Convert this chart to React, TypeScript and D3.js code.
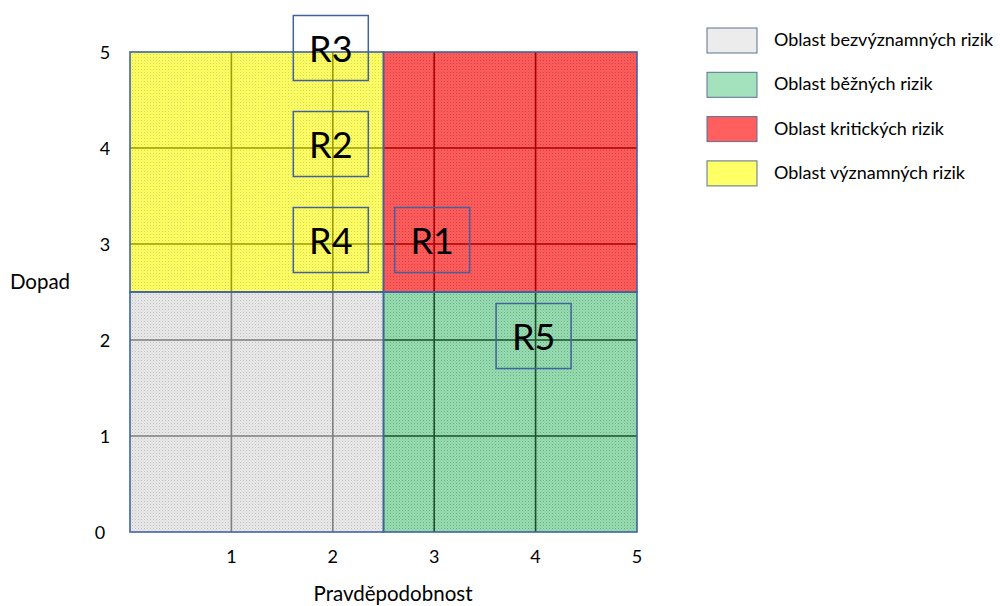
import * as d3 from 'd3';

const zones = [
  { key: 'grey', x0: 0, x1: 2.5, y0: 0, y1: 2.5, fill: '#e9e9e9', dot: '#b0b0b0', grid: '#7f7f7f' },
  { key: 'green', x0: 2.5, x1: 5, y0: 0, y1: 2.5, fill: '#96dcb0', dot: '#5c9c72', grid: '#1d4f2c' },
  { key: 'red', x0: 2.5, x1: 5, y0: 2.5, y1: 5, fill: '#ff5c5c', dot: '#c03838', grid: '#a80000' },
  { key: 'yellow', x0: 0, x1: 2.5, y0: 2.5, y1: 5, fill: '#ffff66', dot: '#c8c840', grid: '#9c9c00' },
];

const legendLabels = [
  'Oblast bezvýznamných rizik',
  'Oblast běžných rizik',
  'Oblast kritických rizik',
  'Oblast významných rizik',
];
const legendFills = ['#ececec', '#a3e2bc', '#ff5f5f', '#ffff66'];

const risks = ['R1', 'R2', 'R3', 'R4', 'R5'];
const riskX = [3, 2, 2, 2, 4];
const riskY = [3, 4, 5, 3, 2];

const ticks = [0, 1, 2, 3, 4, 5];

const font = 'Lato, "Open Sans", sans-serif';
const blue = '#41629f';

export default function App() {
  const x = d3.scaleLinear().domain([0, 5]).range([130, 637]);
  const y = d3.scaleLinear().domain([0, 5]).range([532, 52]);

  const boxW = 75;
  const boxH = 65;

  return (
    <svg
      width={1000}
      height={606}
      style={{ position: 'absolute', left: 0, top: 0, background: '#fff' }}
    >
      <defs>
        {zones.map((z) => (
          <pattern key={z.key} id={'pat-' + z.key} width={3} height={3} patternUnits="userSpaceOnUse">
            <rect width={3} height={3} fill={z.fill} />
            <rect x={0} y={0} width={1} height={1} fill={z.dot} opacity={0.7} />
            <rect x={1.5} y={1.5} width={1} height={1} fill={z.dot} opacity={0.4} />
          </pattern>
        ))}
      </defs>

      {zones.map((z) => {
        const gx = d3.range(Math.floor(z.x0) + 1, Math.ceil(z.x1)).filter((v) => v > z.x0 && v < z.x1);
        const gy = d3.range(Math.floor(z.y0) + 1, Math.ceil(z.y1)).filter((v) => v > z.y0 && v < z.y1);
        return (
          <g key={z.key}>
            <rect
              x={x(z.x0)}
              y={y(z.y1)}
              width={x(z.x1) - x(z.x0)}
              height={y(z.y0) - y(z.y1)}
              fill={`url(#pat-${z.key})`}
            />
            {gx.map((v) => (
              <line key={'x' + v} x1={x(v)} x2={x(v)} y1={y(z.y0)} y2={y(z.y1)} stroke={z.grid} strokeWidth={1.6} />
            ))}
            {gy.map((v) => (
              <line key={'y' + v} x1={x(z.x0)} x2={x(z.x1)} y1={y(v)} y2={y(v)} stroke={z.grid} strokeWidth={1.6} />
            ))}
          </g>
        );
      })}

      {zones.map((z) => (
        <rect
          key={'b' + z.key}
          x={x(z.x0)}
          y={y(z.y1)}
          width={x(z.x1) - x(z.x0)}
          height={y(z.y0) - y(z.y1)}
          fill="none"
          stroke={blue}
          strokeWidth={1.6}
        />
      ))}

      {risks.map((r, i) => {
        const cx = x(riskX[i]) - 2;
        const cy = y(riskY[i]) - 4;
        return (
          <g key={r}>
            <rect x={cx - boxW / 2} y={cy - boxH / 2} width={boxW} height={boxH} fill="none" stroke={blue} strokeWidth={1.5} />
            <text x={cx} y={cy + 14} textAnchor="middle" fontFamily={font} fontSize={36} fill="#000">
              {r}
            </text>
          </g>
        );
      })}

      {ticks.map((t) => (
        <text key={'yt' + t} x={t === 0 ? 100 : 105} y={y(t) + 7} textAnchor="middle" fontFamily={font} fontSize={18} fill="#000">
          {t}
        </text>
      ))}
      {ticks.filter((t) => t > 0).map((t) => (
        <text key={'xt' + t} x={x(t)} y={563} textAnchor="middle" fontFamily={font} fontSize={18} fill="#000">
          {t}
        </text>
      ))}

      <text x={40} y={289} textAnchor="middle" fontFamily={font} fontSize={20.5} fill="#000">
        Dopad
      </text>
      <text x={393} y={601} textAnchor="middle" fontFamily={font} fontSize={20.5} fill="#000">
        Pravděpodobnost
      </text>

      {legendLabels.map((l, i) => {
        const ly = 40 + i * 44.3;
        return (
          <g key={l}>
            <rect x={707} y={ly - 12} width={50} height={25} fill={legendFills[i]} stroke="#5a7090" strokeWidth={1} />
            <text x={774} y={ly + 6} fontFamily={font} fontSize={18} fill="#000">
              {l}
            </text>
          </g>
        );
      })}
    </svg>
  );
}
